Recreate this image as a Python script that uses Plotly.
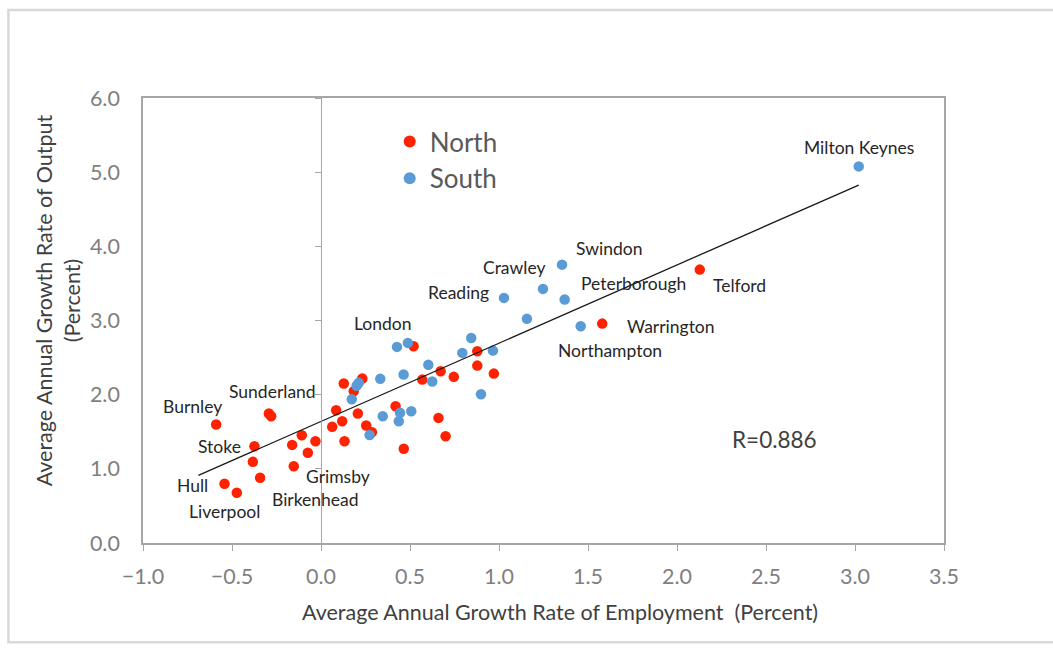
import plotly.graph_objects as go

# ---------------- data ----------------
north_x = [-0.589, -0.293, -0.280, -0.374, -0.383, -0.342, -0.542, -0.473, -0.153, -0.162,
           -0.108, -0.074, -0.031, 0.063, 0.085, 0.119, 0.132, 0.128, 0.184, 0.207,
           0.232, 0.254, 0.286, 0.419, 0.465, 0.520, 0.569, 0.660, 0.672, 0.700,
           0.746, 0.878, 0.878, 0.971, 1.580, 2.128]
north_y = [1.597, 1.745, 1.709, 1.305, 1.094, 0.879, 0.798, 0.677, 1.035, 1.323,
           1.453, 1.216, 1.372, 1.566, 1.790, 1.642, 1.372, 2.150, 2.046, 1.745,
           2.217, 1.584, 1.493, 1.844, 1.270, 2.652, 2.203, 1.687, 2.315, 1.439,
           2.240, 2.585, 2.392, 2.284, 2.958, 3.686]
north_names = ["Burnley", "Sunderland", "", "Stoke", "", "", "Hull", "Liverpool", "Grimsby", "",
               "", "", "", "", "", "", "", "", "", "",
               "", "", "", "", "", "", "", "", "", "",
               "", "", "", "", "Warrington", "Telford"]

south_x = [3.021, 1.354, 1.247, 1.028, 1.369, 1.157, 1.459, 0.844, 0.794, 0.966,
           0.427, 0.488, 0.603, 0.625, 0.464, 0.333, 0.212, 0.200, 0.173, 0.899,
           0.347, 0.444, 0.507, 0.437, 0.273]
south_y = [5.078, 3.753, 3.426, 3.305, 3.282, 3.022, 2.922, 2.765, 2.563, 2.594,
           2.644, 2.698, 2.402, 2.177, 2.271, 2.213, 2.159, 2.120, 1.938, 2.005,
           1.709, 1.755, 1.776, 1.642, 1.456]
south_names = ["Milton Keynes", "Swindon", "Crawley", "Reading", "Peterborough", "", "Northampton", "", "", "",
               "London", "", "", "", "", "", "", "", "", "",
               "", "", "", "", ""]

# extra label attached to a North point (Birkenhead sits under Grimsby)
extra_labels = [("Birkenhead", -0.153, 1.035)]

# trend line (Excel linear trendline, forecast backward)
trend_slope = 1.055
trend_intercept = 1.639
trend_backward = 0.10
r_text = "R=0.886"

x_ticks = [-1.0, -0.5, 0.0, 0.5, 1.0, 1.5, 2.0, 2.5, 3.0, 3.5]
y_ticks = [0.0, 1.0, 2.0, 3.0, 4.0, 5.0, 6.0]
x_title = "Average Annual Growth Rate of Employment  (Percent)"
y_title = "Average Annual Growth Rate of Output<br>(Percent)"

# ---------------- styles ----------------
RED = "#FF2200"
BLUE = "#5B9BD5"
FONT = "Lato"
GRID_GRAY = "#A6A6A6"

label_offsets = {  # pixel offsets of label centre from its dot
    "Burnley": (-24, 18), "Sunderland": (4, 22), "Stoke": (-35, 0), "Hull": (-32, -2),
    "Liverpool": (-12, -19), "Grimsby": (44, -10), "Birkenhead": (22, -33),
    "London": (-14, 23), "Reading": (-45, 5), "Crawley": (-29, 21), "Swindon": (47, 16),
    "Peterborough": (69, 16), "Telford": (40, -16), "Warrington": (69, -3),
    "Northampton": (29, -24), "Milton Keynes": (0, 19),
}

xmin, xmax = x_ticks[0], x_ticks[-1]
ymin, ymax = y_ticks[0], y_ticks[-1]

fig = go.Figure()

all_x = north_x + south_x
t0 = min(all_x) - trend_backward
t1 = max(all_x)
fig.add_trace(go.Scatter(
    x=[t0, t1], y=[trend_intercept + trend_slope * t0, trend_intercept + trend_slope * t1],
    mode="lines", line=dict(color="#1a1a1a", width=1.3), showlegend=False,
    hoverinfo="skip", yaxis="y2"))

fig.add_trace(go.Scatter(x=north_x, y=north_y, mode="markers", name="North",
                         marker=dict(color=RED, size=10.5, line=dict(width=0))))
fig.add_trace(go.Scatter(x=south_x, y=south_y, mode="markers", name="South",
                         marker=dict(color=BLUE, size=10.5, line=dict(width=0))))

labels = []
for names, xs, ys in ((north_names, north_x, north_y), (south_names, south_x, south_y)):
    for n, xv, yv in zip(names, xs, ys):
        if n:
            labels.append((n, xv, yv))
labels += extra_labels

for n, xv, yv in labels:
    dx, dy = label_offsets[n]
    fig.add_annotation(x=xv, y=yv, text=n, showarrow=False, xshift=dx, yshift=dy,
                       xanchor="center", yanchor="middle",
                       font=dict(family=FONT, size=17.5, color="#262626"))

fig.add_annotation(x=0.789, y=0.2325, xref="paper", yref="paper", text=r_text, showarrow=False,
                   xanchor="center", yanchor="middle",
                   font=dict(family=FONT, size=22.5, color="#404040"))

fig.add_annotation(x=0.52, y=-0.154, xref="paper", yref="paper", text=x_title, showarrow=False,
                   xanchor="center", yanchor="middle",
                   font=dict(family=FONT, size=21.5, color="#404040"))
fig.add_annotation(x=-0.105, y=0.545, xref="paper", yref="paper", text=y_title, showarrow=False,
                   textangle=-90, xanchor="center", yanchor="middle",
                   font=dict(family=FONT, size=21.5, color="#404040"))

# outer light frame
fig.add_shape(type="rect", xref="paper", yref="paper",
              x0=-0.168, x1=1.2, y0=-0.223, y1=1.198,
              line=dict(color="#D9D9D9", width=2.5), fillcolor="rgba(0,0,0,0)", layer="below")

fig.update_layout(
    width=1053, height=648,
    margin=dict(l=143, r=109, t=98, b=104.5),
    paper_bgcolor="white", plot_bgcolor="white",
    showlegend=True,
    legend=dict(x=0.308, y=0.955, xanchor="left", yanchor="top",
                font=dict(family=FONT, size=26, color="#595959"),
                bgcolor="rgba(0,0,0,0)", itemsizing="constant", tracegroupgap=0),
    xaxis=dict(range=[xmin, xmax], tickvals=x_ticks, tickformat=".1f",
               showgrid=False, zeroline=True, zerolinecolor=GRID_GRAY, zerolinewidth=1.3,
               showline=True, mirror=True, linecolor=GRID_GRAY, linewidth=1.6,
               ticks="outside", ticklen=6, tickcolor=GRID_GRAY, tickwidth=1.3,
               ticklabelstandoff=7,
               tickfont=dict(family=FONT, size=21.5, color="#7F7F7F"), fixedrange=True),
    yaxis=dict(range=[ymin, ymax], tickvals=y_ticks, tickformat=".1f",
               showgrid=False, zeroline=False,
               showline=True, mirror=True, linecolor=GRID_GRAY, linewidth=1.6,
               ticks="", tickfont=dict(family=FONT, size=21.5, color="#7F7F7F"),
               ticklabelstandoff=17),
    yaxis2=dict(matches="y", overlaying="y", anchor="free",
                position=(0 - xmin) / (xmax - xmin),
                showticklabels=False, showgrid=False, zeroline=False,
                showline=True, linecolor=GRID_GRAY, linewidth=1.3,
                ticks="outside", ticklen=6, tickcolor=GRID_GRAY, tickwidth=1.3,
                tickvals=y_ticks),
)

fig.write_html("out.html", config={"displayModeBar": False},
               post_script="document.body.style.margin='0';")
